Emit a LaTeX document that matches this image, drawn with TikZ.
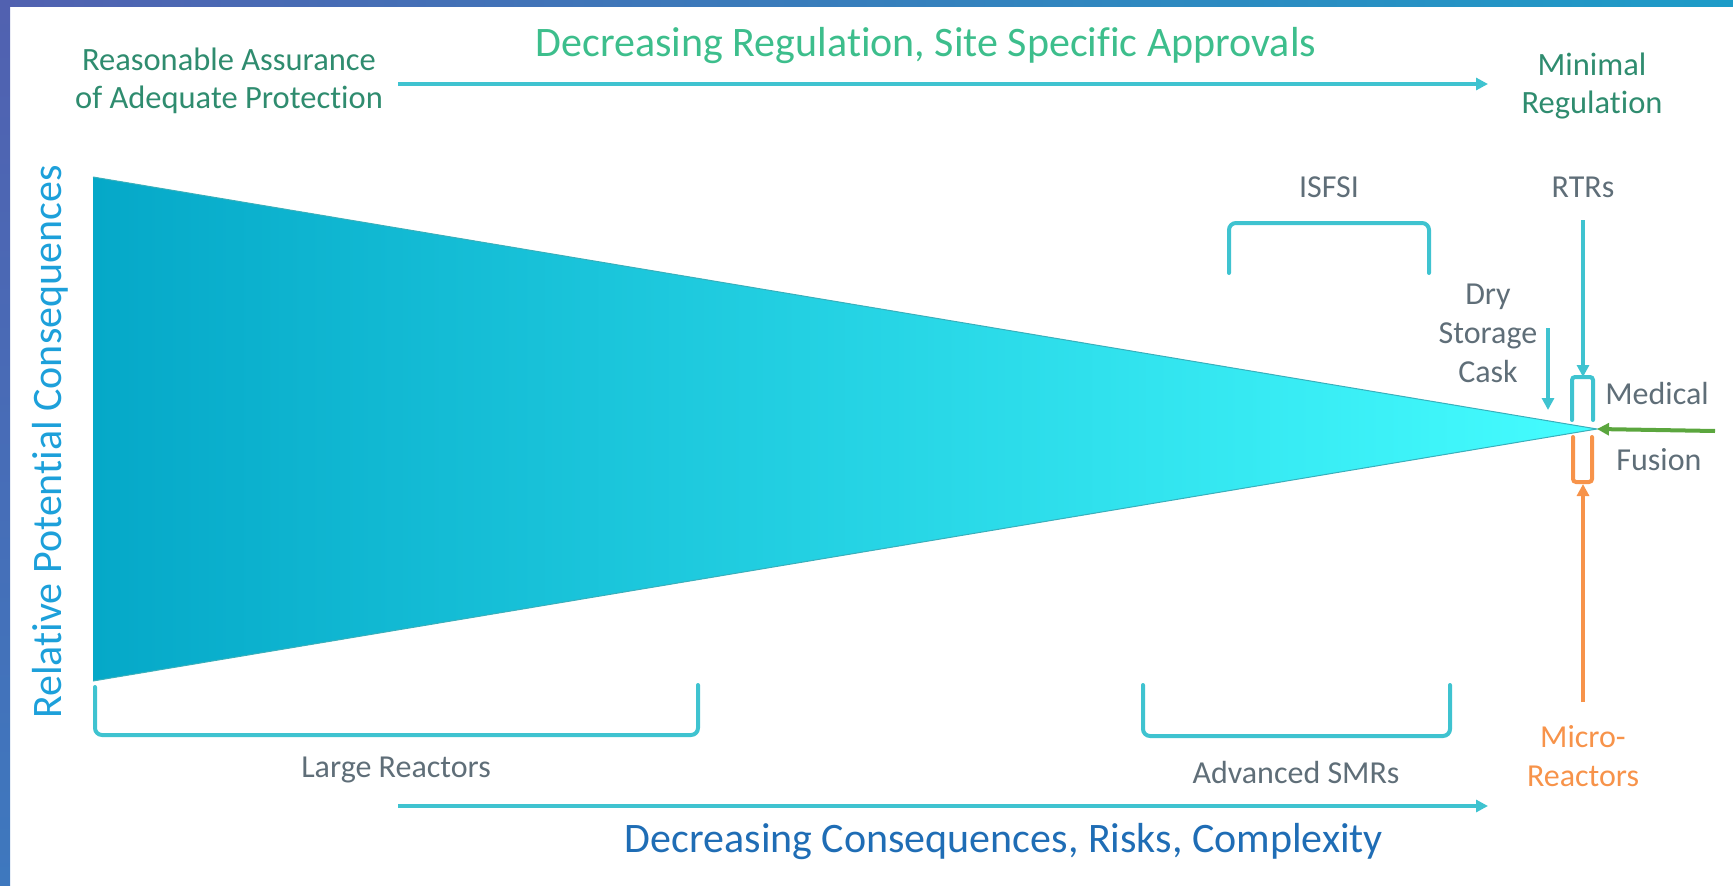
\documentclass[tikz,border=0pt]{standalone}
\usepackage{fontspec}
\setmainfont{Carlito}[Ligatures=NoCommon]
\usepackage{tikz}
\usetikzlibrary{arrows.meta,positioning}

\definecolor{nrcteal}{HTML}{3FC3D0}
\definecolor{nrcgreen}{HTML}{2F8C6F}
\definecolor{nrcmint}{HTML}{3DBE8C}
\definecolor{nrcblue}{HTML}{1F6DB5}
\definecolor{nrcsky}{HTML}{1DA0DA}
\definecolor{nrcgray}{HTML}{5F6E78}
\definecolor{nrcorange}{HTML}{F7934A}
\definecolor{nrcfusion}{HTML}{5BA63E}
\definecolor{coneleft}{HTML}{05A8C8}
\definecolor{coneright}{HTML}{45FDFF}
\definecolor{frameA}{HTML}{5161B0}
\definecolor{frameB}{HTML}{3E78BE}
\definecolor{frameC}{HTML}{1D9CC8}

\begin{document}
\begin{tikzpicture}[x=1pt,y=-1pt,
		lbl/.style={font=\fontsize{32}{39}\selectfont, text=nrcgray, align=center},
		head/.style={font=\fontsize{32.5}{38.5}\selectfont, text=nrcgreen, align=center},
		big/.style={font=\fontsize{42}{48}\selectfont},
		conn/.style={line width=4pt, -{Triangle[length=12pt,width=12pt]}},
		brace/.style={line width=4pt, draw=nrcteal, rounded corners=7pt, line cap=round}]
		\useasboundingbox (0,0) rectangle (1733,886);

		% frame strips
		\shade[left color=frameA, right color=frameC] (0,0) rectangle (1733,6);
		\shade[top color=frameA, bottom color=frameB] (0,0) rectangle (10,886);

		% the cone
		\coordinate (coneTop) at (93,177);
		\coordinate (coneBot) at (93,681);
		\coordinate (apex) at (1597,429);
		\shade[left color=coneleft, right color=coneright] (coneTop) -- (apex) -- (coneBot) -- cycle;
		\draw[line width=1pt, draw=nrcteal!90!black] (coneTop) -- (apex) -- (coneBot);

		% headings
		\node[big, text=nrcmint] (regtitle) at (926,46) {Decreasing Regulation, Site Specific Approvals};
		\node[head] (assurance) at (229,81) {Reasonable Assurance\\of Adequate Protection};
		\node[head] (minimal) at (1592,86) {Minimal\\Regulation};
		\node[big, text=nrcblue] (contitle) at (1004,842) {Decreasing Consequences, Risks, Complexity};
		\node[font=\fontsize{42}{48}\selectfont, text=nrcsky, rotate=90] (relcons) at (50,442) {Relative Potential Consequences};

		% main arrows
		\coordinate (regL) at (398,84);
		\coordinate (regR) at (1488,84);
		\draw[conn, nrcteal] (regL) -- (regR);
		\coordinate (conL) at (398,806);
		\coordinate (conR) at (1488,806);
		\draw[conn, nrcteal] (conL) -- (conR);

		% brackets below
		\draw[brace] (95,687) -- (95,735) -- (698,735) -- (698,685);
		\node[lbl] (large) at (396,770) {Large Reactors};
		\draw[brace] (1143,685) -- (1143,736) -- (1450,736) -- (1450,685);
		\node[lbl] (smr) at (1296,772) {Advanced SMRs};

		% ISFSI
		\draw[brace] (1229,273) -- (1229,223) -- (1429,223) -- (1429,273);
		\node[lbl] (isfsi) at (1329,187) {ISFSI};

		% near the apex
		\node[lbl] (rtrs) at (1583,187) {RTRs};
		\coordinate (rtrsTop) at (1583,220);
		\coordinate (medTop) at (1583,377);
		\draw[conn, nrcteal] (rtrsTop) -- (medTop);
		\draw[brace, rounded corners=3pt] (1572,420) -- (1572,377) -- (1593,377) -- (1593,420);
		\node[lbl] (medical) at (1657,394) {Medical};

		\node[lbl] (cask) at (1488,333) {Dry\\Storage\\Cask};
		\coordinate (caskTop) at (1548,328);
		\coordinate (caskEnd) at (1548,410);
		\draw[conn, nrcteal] (caskTop) -- (caskEnd);

		\coordinate (fusionR) at (1715,431);
		\draw[conn, nrcfusion] (fusionR) -- (apex);
		\node[lbl] (fusion) at (1659,460) {Fusion};

		\draw[brace, draw=nrcorange, rounded corners=3pt] (1573,437) -- (1573,482) -- (1592,482) -- (1592,437);
		\node[lbl, text=nrcorange] (micro) at (1583,756) {Micro-\\Reactors};
		\coordinate (microTop) at (1583,702);
		\coordinate (microEnd) at (1583,484);
		\draw[conn, nrcorange] (microTop) -- (microEnd);
	\end{tikzpicture}
\end{document}
